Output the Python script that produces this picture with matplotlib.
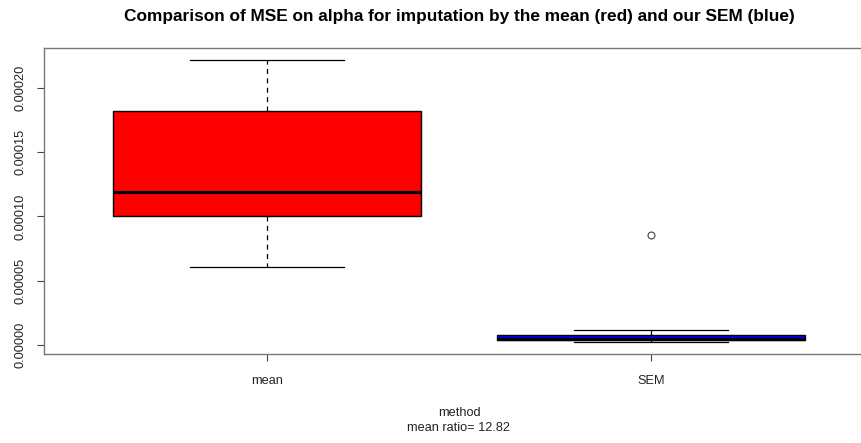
import matplotlib
matplotlib.use("Agg")
import matplotlib.pyplot as plt
from matplotlib.ticker import FixedLocator

plt.rcParams['font.family'] = ['Liberation Sans', 'DejaVu Sans']

# Data
categories = ["mean", "SEM"]
medians = [1.19e-4, 5.3e-6]
q1 = [1.005e-4, 4.5e-6]
q3 = [1.819e-4, 8.2e-6]
whislo = [6.05e-5, 2.3e-6]
whishi = [2.217e-4, 1.19e-5]
fliers = [[], [8.6e-5]]
colors = ["#FF0000", "#0000FF"]
yticks = [0.0, 0.00005, 0.00010, 0.00015, 0.00020]
ytick_labels = ["0.00000", "0.00005", "0.00010", "0.00015", "0.00020"]

W, H = 861, 443
fig = plt.figure(figsize=(W / 100, H / 100), dpi=100)
# axes extends beyond the right image edge as in the reference
left, right, top, bottom = 44.3, 873.7, 48.3, 353.7
ax = fig.add_axes([left / W, 1 - bottom / H, (right - left) / W, (bottom - top) / H])

stats = []
for i, c in enumerate(categories):
    stats.append(dict(label=c, med=medians[i], q1=q1[i], q3=q3[i],
                      whislo=whislo[i], whishi=whishi[i], fliers=fliers[i]))

positions = [1, 2]
bp = ax.bxp(stats, positions=positions, widths=0.8, patch_artist=True,
            showfliers=True,
            boxprops=dict(edgecolor="black", linewidth=1.0),
            medianprops=dict(color="black", linewidth=2.3, solid_capstyle="butt"),
            whiskerprops=dict(color="black", linewidth=0.9, linestyle=(0, (4, 3.5))),
            capprops=dict(color="black", linewidth=0.9),
            flierprops=dict(marker="o", markersize=5, markerfacecolor="none",
                            markeredgecolor="#444444", markeredgewidth=0.8))
for patch, col in zip(bp["boxes"], colors):
    patch.set_facecolor(col)
for cap in bp["caps"]:
    x0, x1 = cap.get_xdata()
    cx = (x0 + x1) / 2
    cap.set_xdata([cx - 0.2, cx + 0.2])

ax.set_xlim(0.42, 2.58)
ymin, ymax = min(whislo), max(whishi)
pad = (ymax - ymin) * 0.04
ax.set_ylim(ymin - pad, ymax + pad)

ax.set_xticks(positions)
ax.set_xticklabels(categories)
ax.yaxis.set_major_locator(FixedLocator(yticks))
ax.set_yticklabels(ytick_labels, rotation=90, va="center")

for s in ax.spines.values():
    s.set_color("#777777")
    s.set_linewidth(1.0)
ax.tick_params(axis="both", length=5, width=0.8, color="#444444",
               labelsize=9.2, labelcolor="#222222")
ax.tick_params(axis="x", pad=10)
ax.tick_params(axis="y", pad=8)

cx = (left + right) / 2 / W
fig.text(cx, 1 - 17 / H,
         "Comparison of MSE on alpha for imputation by the mean (red) and our SEM (blue)",
         ha="center", va="center", fontsize=12.4, fontweight="bold")
fig.text(cx, 1 - 413 / H, "method", ha="center", va="center",
         fontsize=9.2, color="#222222")
fig.text(cx, 1 - 428 / H, "mean ratio= 12.82", ha="center",
         va="center", fontsize=9.2, color="#222222")

fig.savefig("out.png", dpi=100)
